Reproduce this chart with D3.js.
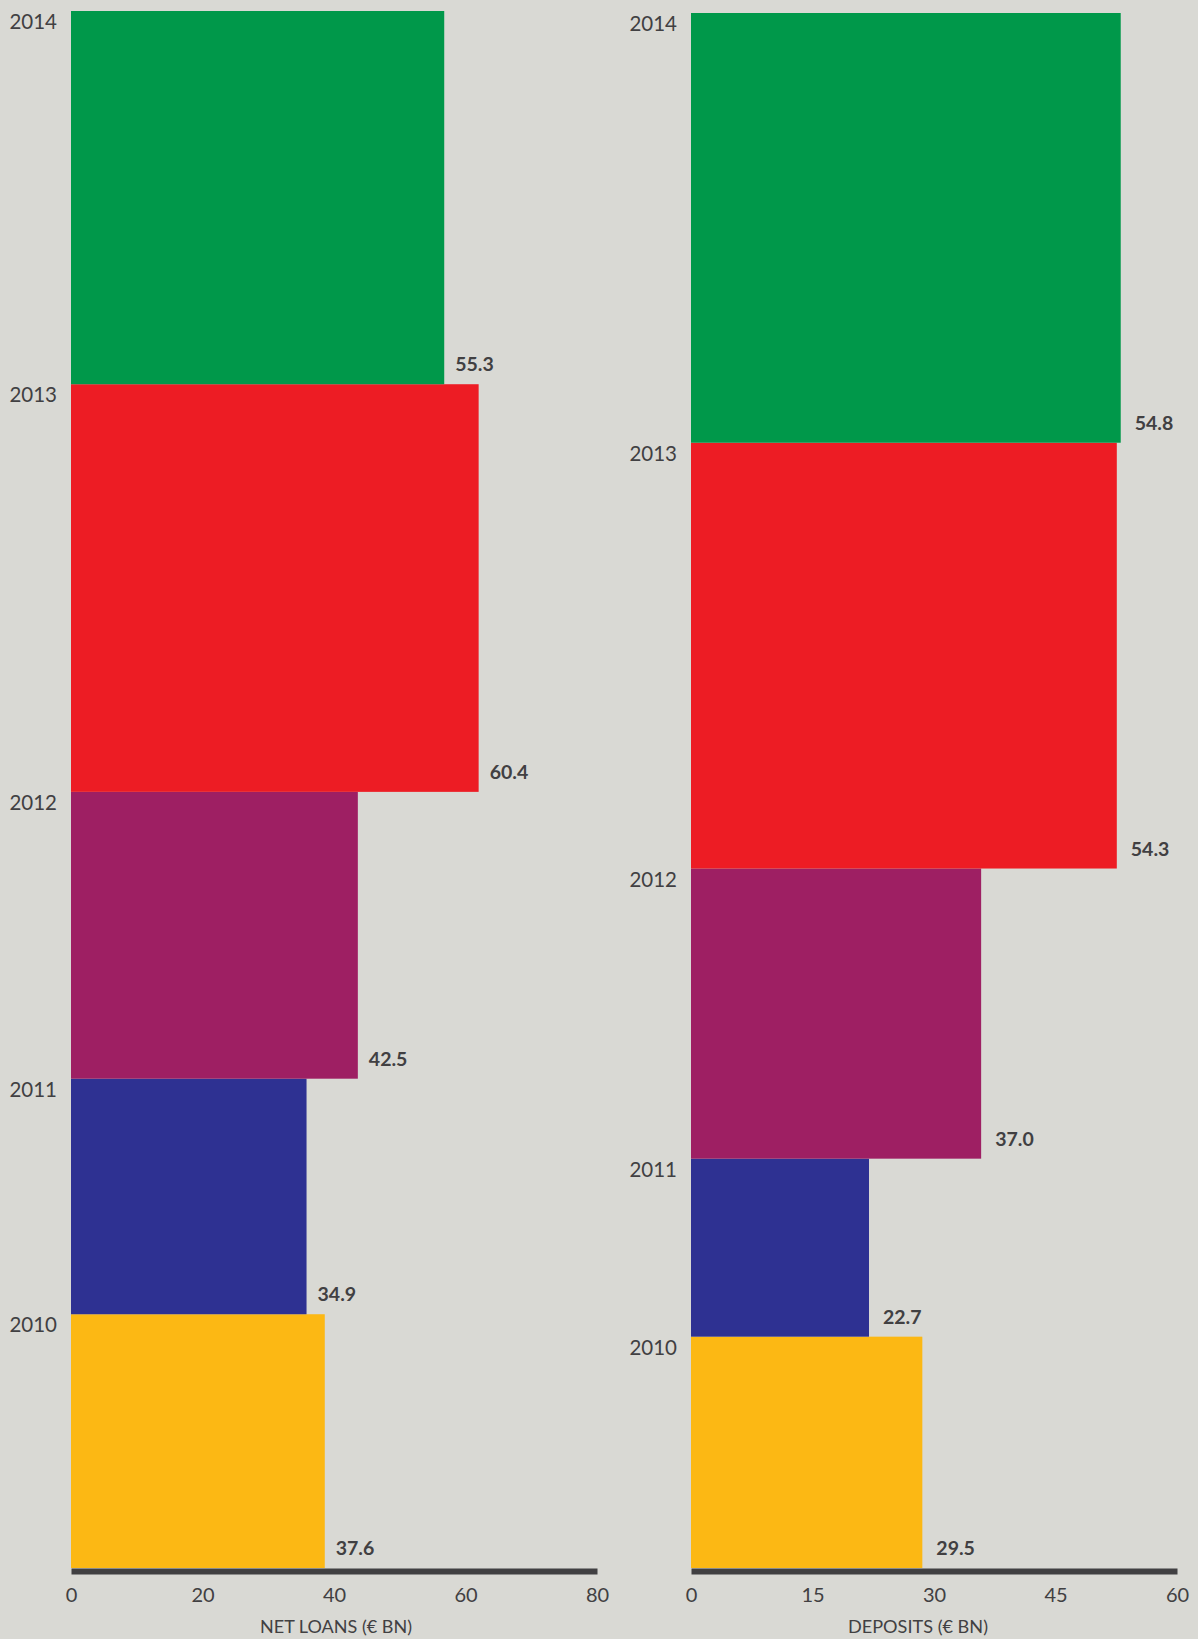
<!DOCTYPE html>
<html>
<head>
<meta charset="utf-8">
<script src="https://cdn.jsdelivr.net/npm/d3@7"></script>
<style>
  html, body { margin: 0; padding: 0; background: #d9d9d4; }
  svg { display: block; }
</style>
</head>
<body>
<script>
// ---- Data ----
const years = ["2010", "2011", "2012", "2013", "2014"];
const netLoans = [37.6, 34.9, 42.5, 60.4, 55.3];
const deposits = [29.5, 22.7, 37.0, 54.3, 54.8];
const barColors = ["#fcb814", "#2e3192", "#9e1f63", "#ed1c24", "#00984a"];
const loanTicks = [0, 20, 40, 60, 80];
const depositTicks = [0, 15, 30, 45, 60];
const loanTitle = "NET LOANS (€ BN)";
const depositTitle = "DEPOSITS (€ BN)";

const W = 1198, H = 1639;
const textColor = "#414042";

const svg = d3.select("body").append("svg")
  .attr("width", W).attr("height", H);

svg.append("rect").attr("width", W).attr("height", H).attr("fill", "#d9d9d4");

function panel(cfg) {
  const g = svg.append("g");
  const total = d3.sum(cfg.values);
  // vertical stacking scale (bars are squares: width uses the same unit)
  const y = d3.scaleLinear().domain([0, total]).range([cfg.bottom, cfg.top]);
  const side = d3.scaleLinear().domain([0, total]).range([0, cfg.bottom - cfg.top]);
  const cum = d3.cumsum(cfg.values);
  const data = cfg.values.map((v, i) => ({
    year: years[i], value: v, color: barColors[i],
    start: i === 0 ? 0 : cum[i - 1], end: cum[i]
  }));

  g.selectAll("rect.bar").data(data).join("rect")
    .attr("class", "bar")
    .attr("x", cfg.x0)
    .attr("y", d => y(d.end))
    .attr("width", d => side(d.value))
    .attr("height", d => y(d.start) - y(d.end))
    .attr("fill", d => d.color);

  // year labels
  g.selectAll("text.year").data(data).join("text")
    .attr("class", "year")
    .attr("x", cfg.x0 - 14)
    .attr("y", d => y(d.end) + 18)
    .attr("text-anchor", "end")
    .attr("font-family", "Lato, sans-serif")
    .attr("font-size", 20.5)
    .attr("fill", textColor)
    .text(d => d.year);

  // value labels
  g.selectAll("text.val").data(data).join("text")
    .attr("class", "val")
    .attr("x", d => cfg.x0 + side(d.value) + cfg.labelGap)
    .attr("y", d => y(d.start) - 13)
    .attr("font-family", "Lato, sans-serif")
    .attr("font-weight", "bold")
    .attr("font-size", 19.5)
    .attr("fill", textColor)
    .text(d => d.value.toFixed(1));

  // x axis
  const xa = d3.scaleLinear().domain([cfg.ticks[0], cfg.ticks[cfg.ticks.length - 1]])
    .range([cfg.x0, cfg.axisEnd]);
  const axis = g.append("g")
    .attr("transform", `translate(0,${cfg.bottom + 3})`)
    .call(d3.axisBottom(xa).tickValues(cfg.ticks).tickSize(0).tickSizeOuter(0).tickPadding(0));
  axis.select(".domain").attr("stroke", textColor).attr("stroke-width", 6);
  axis.selectAll(".tick text")
    .attr("dy", null)
    .attr("y", 31)
    .attr("font-family", "Lato, sans-serif")
    .attr("font-size", 20)
    .attr("fill", textColor);

  g.append("text")
    .attr("x", cfg.titleX)
    .attr("y", 1633)
    .attr("text-anchor", "middle")
    .attr("font-family", "Lato, sans-serif")
    .attr("font-size", 17.5)
    .attr("fill", textColor)
    .attr("textLength", cfg.titleLen)
    .attr("lengthAdjust", "spacingAndGlyphs")
    .text(cfg.title);
}

panel({ values: netLoans, x0: 71, top: 11, bottom: 1568, axisEnd: 597, ticks: loanTicks,
        labelGap: 11, title: loanTitle, titleX: 336, titleLen: 152 });
panel({ values: deposits, x0: 691, top: 13, bottom: 1568, axisEnd: 1177, ticks: depositTicks,
        labelGap: 14, title: depositTitle, titleX: 918, titleLen: 140 });
</script>
</body>
</html>
